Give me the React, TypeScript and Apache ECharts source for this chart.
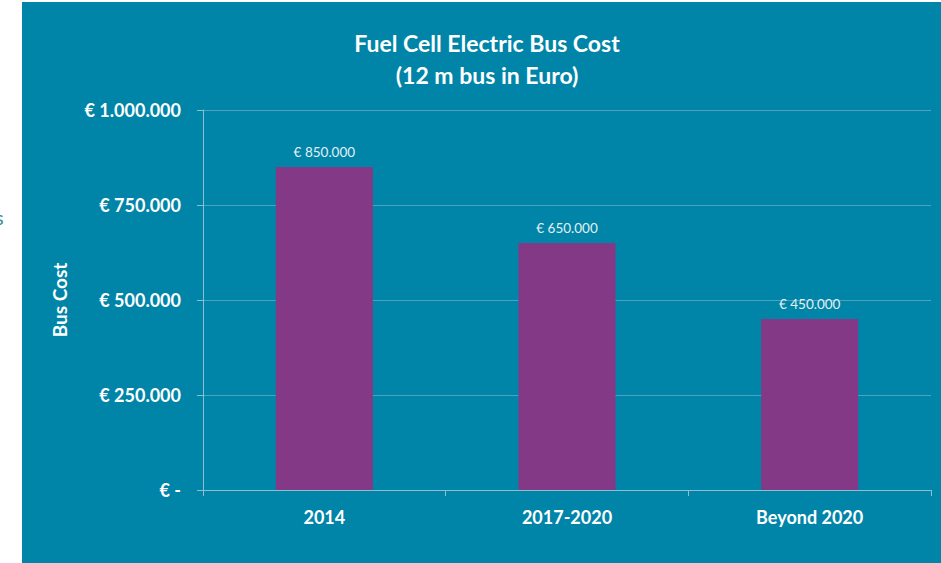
import React, { useEffect, useRef } from "react";
import * as echarts from "echarts";

const categories = ["2014", "2017-2020", "Beyond 2020"];
const busCost = [850000, 650000, 450000];
const titleLines = ["Fuel Cell Electric Bus Cost", "(12 m bus in Euro)"];
const yAxisName = "Bus Cost";

const fmtEuro = (v: number) => {
  if (v === 0) return "€ -";
  return "€ " + String(Math.round(v)).replace(/\B(?=(\d{3})+(?!\d))/g, ".");
};

const FONT = "Lato, 'Open Sans', sans-serif";
const TEAL = "#0085A8";
const PURPLE = "#833985";
const GRID = "#4FA2BE";
const AXIS = "#8CBFD0";

export default function App() {
  const ref = useRef<HTMLDivElement>(null);
  useEffect(() => {
    if (!ref.current) return;
    const chart = echarts.init(ref.current, undefined, { renderer: "svg" });
    chart.setOption({
      animation: false,
      backgroundColor: "#ffffff",
      graphic: [
        {
          type: "rect",
          shape: { x: 22, y: 2, width: 919, height: 561 },
          style: { fill: TEAL },
          z: -10,
          silent: true,
        },
        {
          type: "text",
          x: -5,
          y: 207,
          style: { text: "s", fill: "#3E8C98", font: `20px ${FONT}` },
          silent: true,
        },
      ],
      title: {
        text: titleLines.join("\n"),
        left: 487,
        textAlign: "center",
        top: 27,
        padding: 0,
        textStyle: {
          color: "#ffffff",
          fontFamily: FONT,
          fontWeight: "bold",
          fontSize: 23,
          lineHeight: 32,
        },
      },
      grid: { left: 203, right: 10, top: 110, bottom: 73 },
      xAxis: {
        type: "category",
        data: categories,
        axisLine: { show: true, lineStyle: { color: AXIS, width: 1 } },
        axisTick: { show: true, length: 6, lineStyle: { color: AXIS } },
        axisLabel: {
          color: "#ffffff",
          fontFamily: FONT,
          fontWeight: "bold",
          fontSize: 18,
          margin: 18,
        },
      },
      yAxis: {
        type: "value",
        min: 0,
        max: 1000000,
        interval: 250000,
        name: yAxisName,
        nameLocation: "middle",
        nameRotate: 90,
        nameGap: 134,
        nameTextStyle: {
          color: "#ffffff",
          fontFamily: FONT,
          fontWeight: "bold",
          fontSize: 19,
        },
        axisLine: { show: true, lineStyle: { color: AXIS, width: 1 } },
        axisTick: { show: true, length: 6, lineStyle: { color: AXIS } },
        splitLine: { show: true, lineStyle: { color: GRID, width: 1 } },
        axisLabel: {
          color: "#ffffff",
          fontFamily: FONT,
          fontWeight: "bold",
          fontSize: 18,
          margin: 22,
          formatter: (v: number) => fmtEuro(v),
        },
      },
      series: [
        {
          type: "bar",
          data: busCost,
          barWidth: "40%",
          itemStyle: { color: PURPLE },
          label: {
            show: true,
            position: "top",
            distance: 8,
            color: "#E6F0F4",
            fontFamily: FONT,
            fontSize: 13.5,
            formatter: (p: any) => fmtEuro(p.value),
          },
        },
      ],
    });
    return () => chart.dispose();
  }, []);
  return (
    <div
      ref={ref}
      style={{ position: "absolute", left: 0, top: 0, width: 941, height: 563 }}
    />
  );
}
